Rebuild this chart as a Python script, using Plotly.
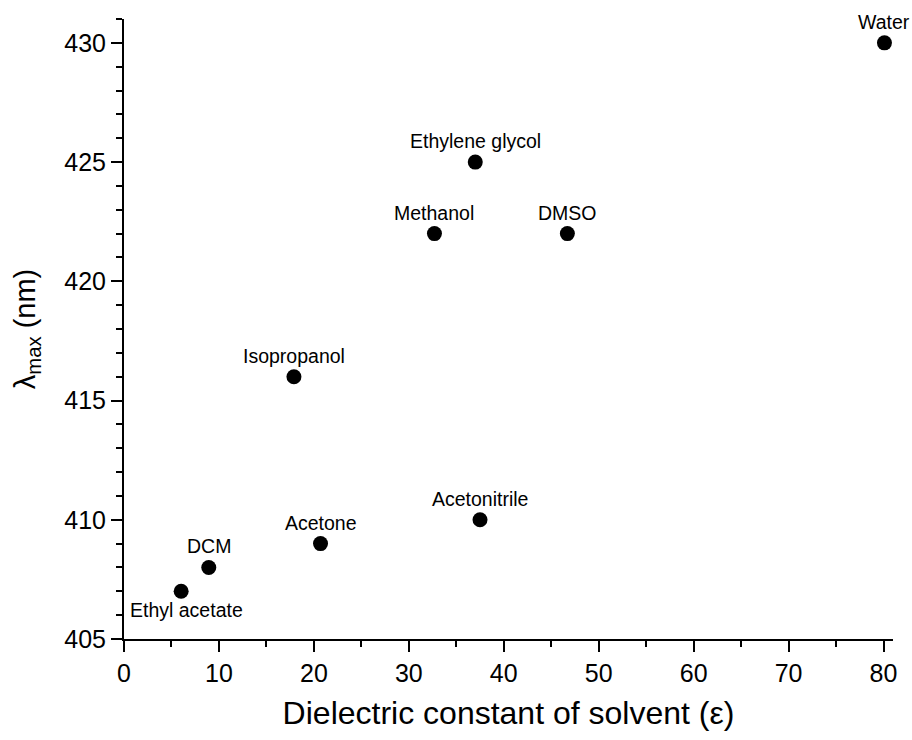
import plotly.graph_objects as go

# Solvent dielectric constants and absorption maxima
solvents = ["Ethyl acetate", "DCM", "Acetone", "Isopropanol", "Methanol",
            "Acetonitrile", "Ethylene glycol", "DMSO", "Water"]
epsilon = [6.02, 8.93, 20.7, 17.9, 32.7, 37.5, 37.0, 46.7, 80.1]
lambda_max = [407, 408, 409, 416, 422, 410, 425, 422, 430]

fig = go.Figure()
fig.add_trace(go.Scatter(
    x=epsilon, y=lambda_max, mode="markers",
    marker=dict(color="black", size=15),
    showlegend=False, hoverinfo="skip",
))

for name, ex, ly in zip(solvents, epsilon, lambda_max):
    below = name == "Ethyl acetate"
    fig.add_annotation(
        x=ex, y=ly, text=name, showarrow=False,
        xshift=5 if below else 0, yshift=-19 if below else 21,
        font=dict(family="Liberation Sans, Arial", size=19.5, color="black"),
    )

axis_font = dict(family="Liberation Sans, Arial", size=25, color="black")
title_font = dict(family="Liberation Sans, Arial", size=32, color="black")
fig.update_layout(
    width=912, height=740,
    margin=dict(l=124, r=19, t=19, b=101),
    plot_bgcolor="white", paper_bgcolor="white",
    xaxis=dict(
        range=[0, 81], dtick=10, tick0=0,
        showgrid=False, zeroline=False,
        showline=True, linecolor="black", linewidth=2,
        ticks="outside", ticklen=11, tickwidth=2, tickcolor="black",
        minor=dict(dtick=5, ticks="outside", ticklen=6, tickwidth=2, tickcolor="black"),
        tickfont=axis_font,
        title=dict(text="Dielectric constant of solvent (ε)", font=title_font, standoff=16),
    ),
    yaxis=dict(
        range=[405, 431], dtick=5, tick0=405,
        showgrid=False, zeroline=False,
        showline=True, linecolor="black", linewidth=2,
        ticks="outside", ticklen=11, tickwidth=2, tickcolor="black",
        minor=dict(dtick=1, ticks="outside", ticklen=6, tickwidth=2, tickcolor="black"),
        tickfont=axis_font,
        title=dict(text="λ<sub>max</sub> (nm)", font=dict(family="Liberation Sans, Arial", size=29, color="black"),
                   standoff=20),
    ),
)

fig.write_html("out.html")
